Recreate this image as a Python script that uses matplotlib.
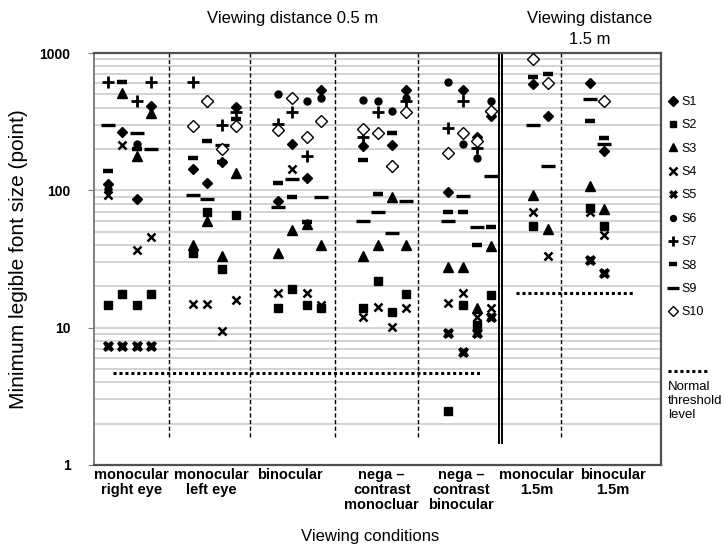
import matplotlib
matplotlib.use("Agg")
import matplotlib.pyplot as plt
import numpy as np
from matplotlib.lines import Line2D

plt.rcParams['font.family'] = ['Liberation Sans', 'DejaVu Sans']

nan = np.nan

conditions = ["monocular\nright eye", "monocular\nleft eye", "binocular",
              "nega \u2013\ncontrast\nmonocluar", "nega \u2013\ncontrast\nbinocular",
              "monocular\n1.5m", "binocular\n1.5m"]
slots_per_condition = [4, 4, 4, 4, 4, 2, 2]

# minimum legible font size per subject, one value per slot
# (4 slots for each 0.5 m condition, 2 for each 1.5 m condition)
s1 = [111, 267, 87, 410, 144, 114, 160, 406, 84, 218, 124, 538,
      211, nan, 214, 538, 97, 538, 243, 345, 594, 349, 603, 194]
s2 = [14.6, 17.5, 14.6, 17.5, 35, 70, 26.6, 66, 13.8, 19, 14.6, 13.8,
      13.8, 21.9, 12.9, 17.6, 2.47, 14.6, 10.4, 17.3, 55, nan, 74, 55]
s3 = [nan, 512, 178, 365, 40, 60, 33, 134, 35, 51, 57, 40,
      33, 40, 90, 40, 27.8, 27.8, 13.8, 39.4, 92, 52, 107, 73]
s4 = [93, 213, 36.8, 46, 14.8, 14.8, 9.45, 15.9, 18, 142, 18, 14.6,
      11.9, 14.2, 10.1, 13.8, 15, 18, 11.9, 13.8, 70, 33, 69, 47]
s5 = [7.3, 7.3, 7.3, 7.3, nan, nan, nan, nan, nan, nan, nan, nan,
      nan, nan, nan, nan, 9.1, 6.6, 9.1, 11.9, nan, nan, 31, 25]
s6 = [102, nan, 218, nan, nan, nan, nan, nan, 499, nan, 448, 472,
      455, 448, 380, 470, 612, 218, 171, 448, nan, nan, nan, nan]
s7 = [620, nan, 450, 620, 620, 444, 297, 373, 303, 369, 178, nan,
      243, 369, 150, 444, 284, 448, 203, 380, nan, nan, nan, nan]
s8 = [139, 620, 201, nan, 173, 227, 160, 330, 114, 89, 59, nan,
      166, 94, 260, nan, 69, 69, 40, 54, 673, 703, 318, 241]
s9 = [297, nan, 260, 199, 92, 86, 213, nan, 76, 121, nan, 90,
      60, 70, 49, 83, 60, 91, 54, 127, 299, 150, 460, 219]
s10 = [nan, nan, nan, nan, 295, 444, 200, 295, 275, 472, 243, 318,
       278, 260, 150, 369, 188, 260, 227, 380, 903, 603, nan, 444]

subjects = [s1, s2, s3, s4, s5, s6, s7, s8, s9, s10]
subject_names = ["S1", "S2", "S3", "S4", "S5", "S6", "S7", "S8", "S9", "S10"]

threshold_05 = 4.7
threshold_15 = 18

# marker style for each subject
styles = [
    dict(marker='D', ms=5.5, mfc='black', mec='black'),
    dict(marker='s', ms=5.5, mfc='black', mec='black'),
    dict(marker='^', ms=6.5, mfc='black', mec='black'),
    dict(marker='x', ms=6, mew=1.8, color='black'),
    dict(marker='X', ms=7.5, mfc='black', mec='black', mew=0.5),
    dict(marker='o', ms=5, mfc='black', mec='black'),
    dict(marker='+', ms=8, mew=2, color='black'),
    dict(marker='_', ms=6.5, mew=3.2, color='black'),
    dict(marker='_', ms=9.5, mew=2.4, color='black'),
    dict(marker='D', ms=6.5, mfc='white', mec='black', mew=1),
]

# x layout: one unit per slot
group_starts = [1, 7, 13, 19, 25, 31, 35]
slot_x = np.concatenate([np.arange(n) + s for s, n in zip(group_starts, slots_per_condition)])
label_x = [2.66, 8.3, 13.8, 20.3, 25.9, 31.2, 36.6]
dashed_x = [5.31, 10.98, 17.02, 22.84, 32.97]

fig = plt.figure(figsize=(7.25, 5.55), dpi=100)
ax = fig.add_axes([94/725, 1-465/555, 567/725, 412/555])
ax.set_yscale('log')
ax.set_ylim(1, 1000)
ax.set_xlim(0, 40)

ax.yaxis.set_minor_locator(matplotlib.ticker.LogLocator(base=10, subs=np.arange(2, 10)))
ax.yaxis.set_minor_formatter(matplotlib.ticker.NullFormatter())
ax.grid(True, which='both', axis='y', color='#c8c8c8', lw=1.1, zorder=0)
ax.set_axisbelow(True)

for sp in ['top', 'right', 'bottom']:
    ax.spines[sp].set_color('#505050')
    ax.spines[sp].set_linewidth(1.6)
ax.spines['left'].set_color('#808080')
ax.spines['left'].set_linewidth(1.4)

ax.set_yticks([1, 10, 100, 1000])
ax.set_yticklabels(["1", "10", "100", "1000"], fontsize=10, fontweight='bold')
ax.tick_params(axis='y', which='major', length=4, color='#808080', pad=13)
ax.tick_params(axis='y', which='minor', length=0)

ax.set_xticks(label_x)
ax.set_xticklabels(conditions, fontsize=10.5, fontweight='bold', linespacing=1.08)
ax.tick_params(axis='x', length=0, pad=2)

# condition separators
ax.vlines(dashed_x, 1.6, 1000, colors='black', lw=1, linestyles=(0, (3, 1.8)), zorder=2)
ax.vlines([28.57, 28.75], 1.42, 1000, colors='black', lw=1.4, zorder=2)

# normal threshold levels
ax.hlines(threshold_05, 1.34, 27.4, colors='black', lw=2.2, linestyles=(0, (1, 0.95)), zorder=2)
ax.hlines(threshold_15, 29.8, 38.0, colors='black', lw=2.2, linestyles=(0, (1, 0.95)), zorder=2)

for vals, name, st in zip(subjects, subject_names, styles):
    ax.plot(slot_x, vals, linestyle='none', label=name, zorder=3, **st)

ax.legend(loc='upper left', bbox_to_anchor=(669/725, 1-96/555), bbox_transform=fig.transFigure,
          frameon=False, fontsize=9, handlelength=0.7, handletextpad=0.3,
          labelspacing=0.91, borderpad=0, borderaxespad=0, markerscale=0.85)

fig.add_artist(Line2D([668/725, 707/725], [1-370.7/555]*2, color='black', lw=2.2,
                      linestyle=(0, (1, 0.95))))
fig.text(668/725, 1-381/555, "Normal\nthreshold\nlevel", fontsize=9.5, va='top', ha='left',
         linespacing=1.2)

fig.text(293/725, 1-18/555, "Viewing distance 0.5 m", fontsize=12, ha='center', va='center')
fig.text(590/725, 1-18/555, "Viewing distance", fontsize=12, ha='center', va='center')
fig.text(590/725, 1-40/555, "1.5 m", fontsize=12, ha='center', va='center')
fig.text(370/725, 1-537/555, "Viewing conditions", fontsize=12, ha='center', va='center')
fig.text(19/725, 1-259/555, "Minimum legible font size (point)", fontsize=15,
         rotation=90, ha='center', va='center')

fig.savefig("out.png", dpi=100)
